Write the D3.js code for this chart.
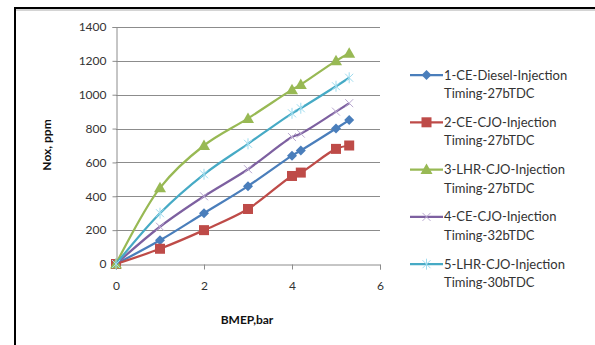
<!DOCTYPE html>
<html lang="en">
  <head>
    <meta charset="UTF-8" />
    <title>Nox vs BMEP</title>
    <script src="https://d3js.org/d3.v7.min.js"></script>
    <style>
      body { margin: 0; background: #fff; }
      text { font-family: Lato, "Open Sans", sans-serif; }
    </style>
  </head>
  <body>
    <script>
      // data
      var bmep = [0, 1, 2, 3, 4, 4.2, 5, 5.3];
      var seriesNames = [
        ["1-CE-Diesel-Injection", "Timing-27bTDC"],
        ["2-CE-CJO-Injection", "Timing-27bTDC"],
        ["3-LHR-CJO-Injection", "Timing-27bTDC"],
        ["4-CE-CJO-Injection", "Timing-32bTDC"],
        ["5-LHR-CJO-Injection", "Timing-30bTDC"]
      ];
      var ceDiesel27 = [0, 140, 300, 460, 640, 670, 800, 850];
      var ceCjo27 = [0, 90, 200, 325, 520, 540, 680, 700];
      var lhrCjo27 = [0, 450, 700, 860, 1030, 1060, 1200, 1245];
      var ceCjo32 = [0, 220, 400, 560, 750, 770, 900, 950];
      var lhrCjo30 = [0, 300, 530, 710, 890, 920, 1050, 1100];
      var xTicks = [0, 2, 4, 6];
      var yTicks = [0, 200, 400, 600, 800, 1000, 1200, 1400];

      var allSeries = [ceDiesel27, ceCjo27, lhrCjo27, ceCjo32, lhrCjo30];
      var colors = ["#4a7ebb", "#be4b48", "#98b954", "#7d60a0", "#46aac5"];
      var markerColors = ["#4a7ebb", "#be4b48", "#98b954", "#b9a8d0", "#9fdcef"];
      var markers = ["diamond", "square", "triangle", "x", "star"];

      var W = 595, H = 345;
      var svg = d3.select("body").append("svg")
        .attr("width", W).attr("height", H);

      // outer frame
      svg.append("line").attr("x1", 15).attr("x2", W).attr("y1", 8).attr("y2", 8)
        .attr("stroke", "#000").attr("stroke-width", 2);
      svg.append("line").attr("x1", 15).attr("x2", W).attr("y1", 10).attr("y2", 10)
        .attr("stroke", "#aaa").attr("stroke-width", 1);
      svg.append("line").attr("x1", 15).attr("x2", 15).attr("y1", 7).attr("y2", H)
        .attr("stroke", "#000").attr("stroke-width", 2);

      var x = d3.scaleLinear().domain([0, 6]).range([116, 380]);
      var y = d3.scaleLinear().domain([0, 1400]).range([264, 27]);

      // gridlines
      svg.append("g").selectAll("line").data(yTicks.slice(1)).enter().append("line")
        .attr("x1", x(0)).attr("x2", x(6))
        .attr("y1", function (d) { return Math.round(y(d)) + 0.5; })
        .attr("y2", function (d) { return Math.round(y(d)) + 0.5; })
        .attr("stroke", "#8c8c8c").attr("stroke-width", 1);

      var yAxis = svg.append("g")
        .attr("transform", "translate(" + (x(0) + 0.5) + ",0)")
        .call(d3.axisLeft(y).tickValues(yTicks).tickFormat(d3.format("d"))
          .tickSize(4).tickPadding(6));
      var xAxis = svg.append("g")
        .attr("transform", "translate(0," + (Math.round(y(0)) + 0.5) + ")")
        .call(d3.axisBottom(x).tickValues(xTicks).tickFormat(d3.format("d"))
          .tickSize(5).tickPadding(12));
      [xAxis, yAxis].forEach(function (a) {
        a.select(".domain").attr("stroke", "#8c8c8c");
        a.selectAll(".tick line").attr("stroke", "#8c8c8c");
        a.selectAll(".tick text").attr("fill", "#333").style("font-size", "12px")
          .style("font-family", "Lato, 'Open Sans', sans-serif");
      });

      svg.append("text").attr("x", 247).attr("y", 324)
        .attr("text-anchor", "middle").style("font-size", "12px")
        .style("font-weight", "bold").attr("fill", "#111").text("BMEP,bar");
      svg.append("text")
        .attr("transform", "translate(51,145) rotate(-90)")
        .attr("text-anchor", "middle").style("font-size", "12px")
        .style("font-weight", "bold").attr("fill", "#111").text("Nox, ppm");

      function drawMarker(g, type, color) {
        if (type === "diamond") {
          g.append("path").attr("d", "M0,-5L5,0L0,5L-5,0Z").attr("fill", color);
        } else if (type === "square") {
          g.append("rect").attr("x", -5).attr("y", -5).attr("width", 10).attr("height", 10)
            .attr("fill", color);
        } else if (type === "triangle") {
          g.append("path").attr("d", "M0,-6L6,4.5L-6,4.5Z").attr("fill", color);
        } else if (type === "x") {
          g.append("path").attr("d", "M-4,-4L4,4M-4,4L4,-4")
            .attr("stroke", color).attr("stroke-width", 1);
        } else {
          g.append("path").attr("d", "M-4,-4L4,4M-4,4L4,-4M0,-5.5L0,5.5")
            .attr("stroke", color).attr("stroke-width", 1);
        }
      }

      var line = d3.line()
        .x(function (d, i) { return x(bmep[i]); })
        .y(function (d) { return y(d); })
        .curve(d3.curveCatmullRom.alpha(0.5));

      allSeries.forEach(function (vals, s) {
        svg.append("path").datum(vals).attr("d", line)
          .attr("fill", "none").attr("stroke", colors[s]).attr("stroke-width", 2.25);
        vals.forEach(function (v, i) {
          var g = svg.append("g")
            .attr("transform", "translate(" + x(bmep[i]) + "," + y(v) + ")");
          drawMarker(g, markers[s], markerColors[s]);
        });
      });

      // legend
      var legend = svg.append("g");
      seriesNames.forEach(function (name, s) {
        var cy = 75 + s * 47.3;
        legend.append("line").attr("x1", 410).attr("x2", 443)
          .attr("y1", cy).attr("y2", cy)
          .attr("stroke", colors[s]).attr("stroke-width", 2.25);
        var g = legend.append("g").attr("transform", "translate(426.5," + cy + ")");
        drawMarker(g, markers[s], markerColors[s]);
        legend.append("text").attr("x", 444).attr("y", cy + 4.5)
          .style("font-size", "13px").attr("fill", "#333").text(name[0]);
        legend.append("text").attr("x", 444).attr("y", cy + 23)
          .style("font-size", "13px").attr("fill", "#333").text(name[1]);
      });
    </script>
  </body>
</html>
